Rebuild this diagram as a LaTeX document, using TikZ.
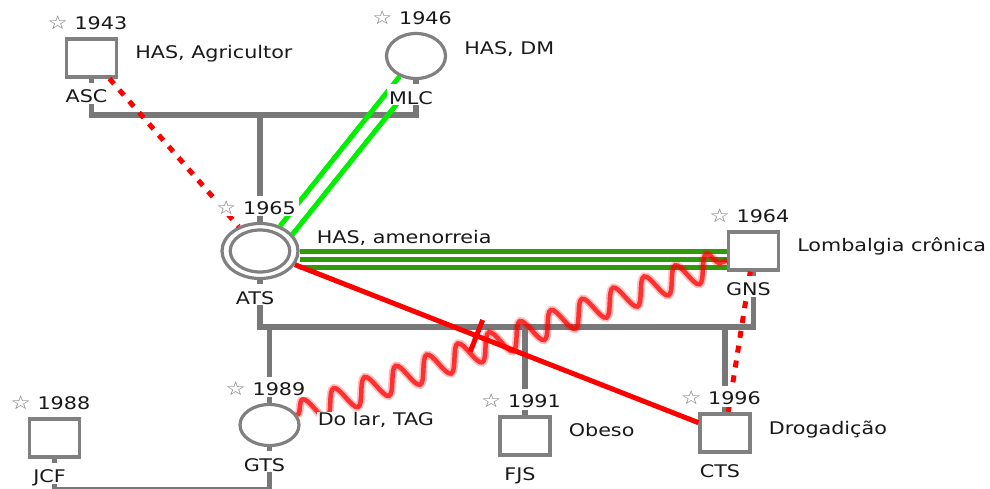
\documentclass[tikz,border=0pt]{standalone}
\usepackage{fontspec}
\setmainfont{DejaVu Sans}[FakeStretch=1.19]
\usetikzlibrary{positioning,shapes.geometric,backgrounds,decorations.pathmorphing,decorations.markings}
\definecolor{pedgray}{HTML}{787878}
\definecolor{boxgray}{HTML}{808080}
\definecolor{stargray}{HTML}{7A7A7A}
\definecolor{closegreen}{HTML}{00F000}
\definecolor{deepgreen}{HTML}{2E9A0C}
\definecolor{relred}{HTML}{FF0000}
\newcommand\born[1]{{\color{stargray}\fontsize{19pt}{15pt}\selectfont ☆} #1}

\begin{document}
\begin{tikzpicture}[x=1pt, y=-1pt,
    font=\fontsize{17.4pt}{20pt}\selectfont,
    male/.style={draw=boxgray, line width=3.2pt, fill=white, minimum width=50pt, minimum height=38pt, inner sep=0pt},
    female/.style={ellipse, draw=boxgray, line width=3.2pt, fill=white, minimum width=59pt, minimum height=45pt, inner sep=0pt},
    index/.style={female, minimum width=76pt, minimum height=55pt},
    pedline/.style={draw=pedgray, line width=5.5pt},
    yearlab/.style={fill=white, inner xsep=3pt, inner ysep=1pt, text height=17.5pt, text depth=1pt, text=black!90},
    namelab/.style={fill=white, inner xsep=2pt, inner ysep=1pt, text height=19pt, text depth=0pt, text=black!90},
    desclab/.style={fill=white, inner sep=1pt, text height=12.7pt, text depth=0pt, text=black!90},
    distant/.style={draw=relred, line width=5pt, dash pattern=on 7pt off 8pt},
    closerel/.style={draw=closegreen, line width=5pt, postaction={draw, transform canvas={shift={(12pt,-9pt)}}}},
    veryclose/.style={draw=deepgreen, line width=5pt, postaction={draw, transform canvas={yshift=-8pt}}, postaction={draw, transform canvas={yshift=-16pt}}},
    hostile/.style={draw=relred, draw opacity=0.75, line width=4.5pt, preaction={draw=relred, draw opacity=0.25, line width=8pt},
      decorate, decoration={snake, segment length=33pt, amplitude=13pt}},
    cutoff/.style={draw=relred, line width=5pt, postaction={decorate, decoration={markings, mark=at position 0.45 with {\draw[relred, line width=5pt] (0pt,-17pt) -- (0pt,17pt);}}}}
  ]
  \useasboundingbox (0,0) rectangle (990,488);

  % people
  \node[male] (ASC) at (91.5,58) {};
  \node[female] (MLC) at (416,56) {};
  \node[index] (ATS) at (260,251) {};
  \node[female, fill=none, minimum width=59.5pt, minimum height=42pt] (ATSin) at (ATS) {};
  \node[male] (GNS) at (753.5,251) {};
  \node[female, minimum height=41pt] (GTS) at (269.5,425) {};
  \node[male] (JCF) at (54.5,438) {};
  \node[male] (FJS) at (525,436) {};
  \node[male] (CTS) at (725,433) {};

  % family lines
  \coordinate (bar1) at (260,115);
  \coordinate (bar2) at (260,327);
  \coordinate (bar3) at (54.5,490);
  \begin{pgfonlayer}{background}
    \draw[pedline] (ASC.center) |- (bar1) -| (MLC.center);
    \draw[pedline] (bar1) -- (ATS.center);
    \draw[pedline] (ATS.center) -- (bar2) -| (GNS.center);
    \draw[pedline] (GTS |- bar2) -- (GTS.center);
    \draw[pedline] (FJS |- bar2) -- (FJS.center);
    \draw[pedline] (CTS |- bar2) -- (CTS.center);
    \draw[pedline] (JCF.center) -- (bar3) -| (GTS.center);
  \end{pgfonlayer}

  % emotional ties
  \draw[distant] (ASC) -- (ATS);
  \draw[closerel] (MLC) -- (ATS);
  \draw[veryclose] (ATS) -- (GNS);
  \draw[hostile] (GTS) -- (GNS);
  \draw[cutoff] (ATS) -- (CTS);
  \draw[distant] (GNS) -- (CTS);

  % labels
  \node[yearlab, above=5.5pt of ASC, xshift=-4pt] (ASCy) {\born{1943}};
  \node[namelab, below=4pt of ASC, xshift=-5pt] (ASCn) {ASC};
  \node[desclab, right=16pt of ASC, yshift=6pt] (ASCd) {HAS, Agricultor};

  \node[yearlab, above=5.5pt of MLC, xshift=-4pt] (MLCy) {\born{1946}};
  \node[namelab, below=4pt of MLC, xshift=-5pt] (MLCn) {MLC};
  \node[desclab, right=16pt of MLC, yshift=8pt] (MLCd) {HAS, DM};

  \node[yearlab, above=5.5pt of ATS, xshift=-4pt] (ATSy) {\born{1965}};
  \node[namelab, below=4pt of ATS, xshift=-5pt] (ATSn) {ATS};
  \node[desclab, right=16pt of ATS, yshift=14pt] (ATSd) {HAS, amenorreia};

  \node[yearlab, above=5.5pt of GNS, xshift=-4pt] (GNSy) {\born{1964}};
  \node[namelab, below=4pt of GNS, xshift=-5pt] (GNSn) {GNS};
  \node[desclab, right=16pt of GNS, yshift=6pt] (GNSd) {Lombalgia crônica};

  \node[yearlab, above=5.5pt of GTS, xshift=-4pt] (GTSy) {\born{1989}};
  \node[namelab, below=4pt of GTS, xshift=-5pt] (GTSn) {GTS};
  \node[desclab, right=16pt of GTS, yshift=6pt] (GTSd) {Do lar, TAG};

  \node[yearlab, above=5.5pt of JCF, xshift=-4pt] (JCFy) {\born{1988}};
  \node[namelab, below=4pt of JCF, xshift=-5pt] (JCFn) {JCF};

  \node[yearlab, above=5.5pt of FJS, xshift=-4pt] (FJSy) {\born{1991}};
  \node[namelab, below=4pt of FJS, xshift=-5pt] (FJSn) {FJS};
  \node[desclab, right=16pt of FJS, yshift=6pt] (FJSd) {Obeso};

  \node[yearlab, above=5.5pt of CTS, xshift=-4pt] (CTSy) {\born{1996}};
  \node[namelab, below=4pt of CTS, xshift=-5pt] (CTSn) {CTS};
  \node[desclab, right=16pt of CTS, yshift=5pt] (CTSd) {Drogadição};
\end{tikzpicture}
\end{document}
